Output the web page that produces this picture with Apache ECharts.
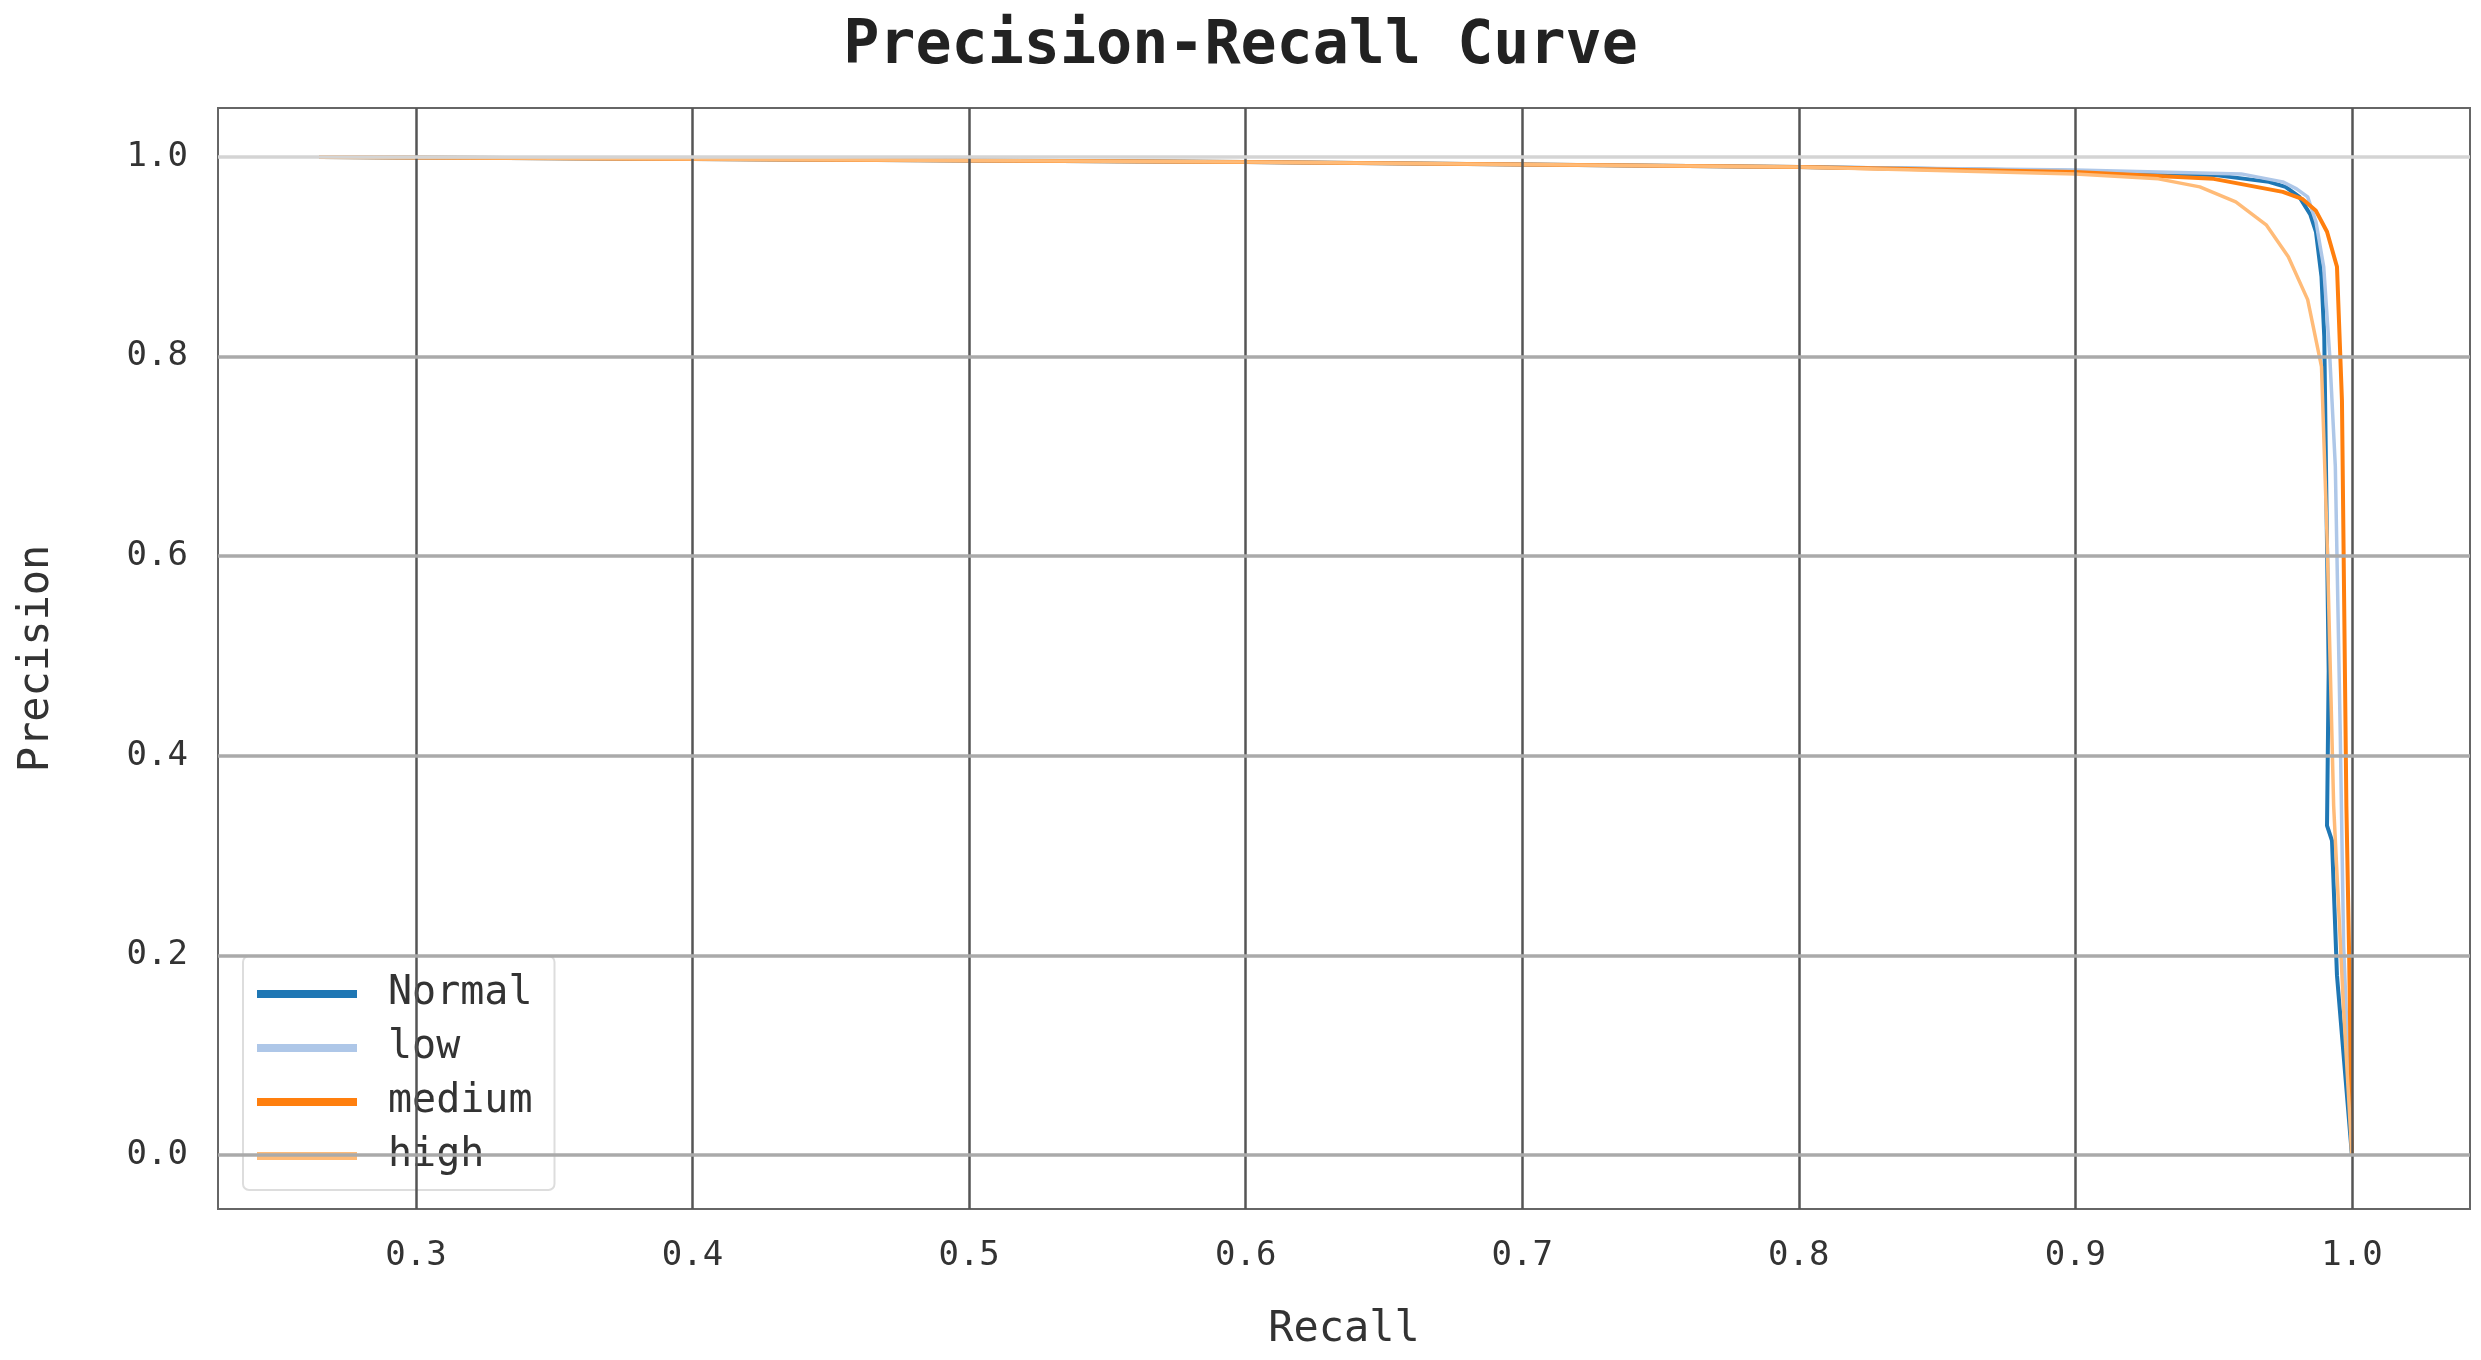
<!DOCTYPE html>
<html><head><meta charset="utf-8">
<script src="https://cdn.jsdelivr.net/npm/echarts@6/dist/echarts.min.js"></script>
<style>html,body{margin:0;padding:0;background:#fff}#c{width:2481px;height:1360px}</style>
</head><body><div id="c"></div>
<script>
// PR curves as [recall, precision]
const seriesNames = ['Normal', 'low', 'medium', 'high'];
const seriesColors = ['#1f77b4', '#aec7e8', '#ff7f0e', '#ffbb78'];
const normalPts = [[0.265,1.0],[0.4,0.998],[0.6,0.995],[0.8,0.99],[0.9,0.986],[0.95,0.982],[0.97,0.975],[0.976,0.97],[0.981,0.96],[0.985,0.942],[0.987,0.925],[0.989,0.88],[0.99,0.82],[0.9916,0.485],[0.991,0.33],[0.9928,0.315],[0.9946,0.18],[0.9994,0.02],[1.0,0.0]];
const lowPts = [[0.265,1.0],[0.4,0.998],[0.6,0.995],[0.8,0.99],[0.9,0.987],[0.96,0.983],[0.975,0.975],[0.98,0.968],[0.984,0.96],[0.987,0.935],[0.9898,0.89],[0.992,0.8],[0.994,0.69],[0.9958,0.42],[0.997,0.21],[1.0,0.0]];
const mediumPts = [[0.265,1.0],[0.4,0.998],[0.6,0.995],[0.8,0.99],[0.9,0.985],[0.95,0.978],[0.975,0.965],[0.982,0.958],[0.987,0.946],[0.991,0.925],[0.9946,0.89],[0.9964,0.756],[0.998,0.35],[0.999,0.2],[1.0,0.0]];
const highPts = [[0.265,1.0],[0.4,0.998],[0.6,0.995],[0.8,0.99],[0.9,0.983],[0.93,0.978],[0.945,0.97],[0.958,0.955],[0.969,0.932],[0.977,0.9],[0.984,0.857],[0.989,0.79],[0.991,0.62],[0.9934,0.35],[0.997,0.146],[1.0,0.0]];
const allPts = [normalPts, lowPts, mediumPts, highPts];
const xTicks = [0.3, 0.4, 0.5, 0.6, 0.7, 0.8, 0.9, 1.0];
const yTicks = [0.0, 0.2, 0.4, 0.6, 0.8, 1.0];

const font = '"DejaVu Sans Mono", monospace';
const chart = echarts.init(document.getElementById('c'));

const gridLines = {
  type: 'line', data: [], silent: true, legendHoverLink: false,
  markLine: {
    symbol: 'none', silent: true, label: {show: false}, animation: false,
    data: [
      ...xTicks.map(v => ({xAxis: v, lineStyle: {color: '#555', width: 2.5, type: 'solid'}})),
      ...yTicks.map(v => ({yAxis: v, lineStyle: {color: v === 1.0 ? '#d4d4d4' : '#aaa', width: 3.5, type: 'solid'}}))
    ]
  }
};

chart.setOption({
  animation: false,
  title: {text: 'Precision-Recall Curve', left: 'center', top: 12,
    textStyle: {fontFamily: font, fontSize: 60, fontWeight: 'bold', color: '#222'}},
  grid: {left: 218, right: 11, top: 108, bottom: 151, show: true, borderColor: '#666', borderWidth: 2},
  xAxis: {type: 'value', min: 0.2284, max: 1.0427,
    name: 'Recall', nameLocation: 'middle', nameGap: 100,
    nameTextStyle: {fontFamily: font, fontSize: 42, color: '#333'},
    axisLine: {show: false}, splitLine: {show: false},
    axisTick: {show: false},
    axisLabel: {customValues: xTicks, formatter: v => v.toFixed(1), margin: 30,
      fontFamily: font, fontSize: 34, color: '#333'}},
  yAxis: {type: 'value', min: -0.054, max: 1.049,
    name: 'Precision', nameLocation: 'middle', nameGap: 160, nameRotate: 90,
    nameTextStyle: {fontFamily: font, fontSize: 42, color: '#333'},
    axisLine: {show: false}, splitLine: {show: false},
    axisTick: {show: false},
    axisLabel: {customValues: yTicks, formatter: v => v.toFixed(1), margin: 30,
      fontFamily: font, fontSize: 34, color: '#333'}},
  legend: {orient: 'vertical', left: 243, top: 956, data: seriesNames,
    itemWidth: 100, itemHeight: 8, itemGap: 14,
    padding: [18, 22, 14, 14], backgroundColor: '#fff', borderColor: '#ddd', borderWidth: 2, borderRadius: 6,
    icon: 'rect',
    textStyle: {fontFamily: font, fontSize: 40, color: '#333', padding: [0, 0, 0, 26]}},
  series: [gridLines, ...seriesNames.map((n, i) => ({
    name: n, type: 'line', data: allPts[i], showSymbol: false, smooth: false,
    itemStyle: {color: seriesColors[i]},
    lineStyle: {color: seriesColors[i], width: i === 0 || i === 2 ? 4 : 3.5},
    z: 3
  }))]
});
</script></body></html>
